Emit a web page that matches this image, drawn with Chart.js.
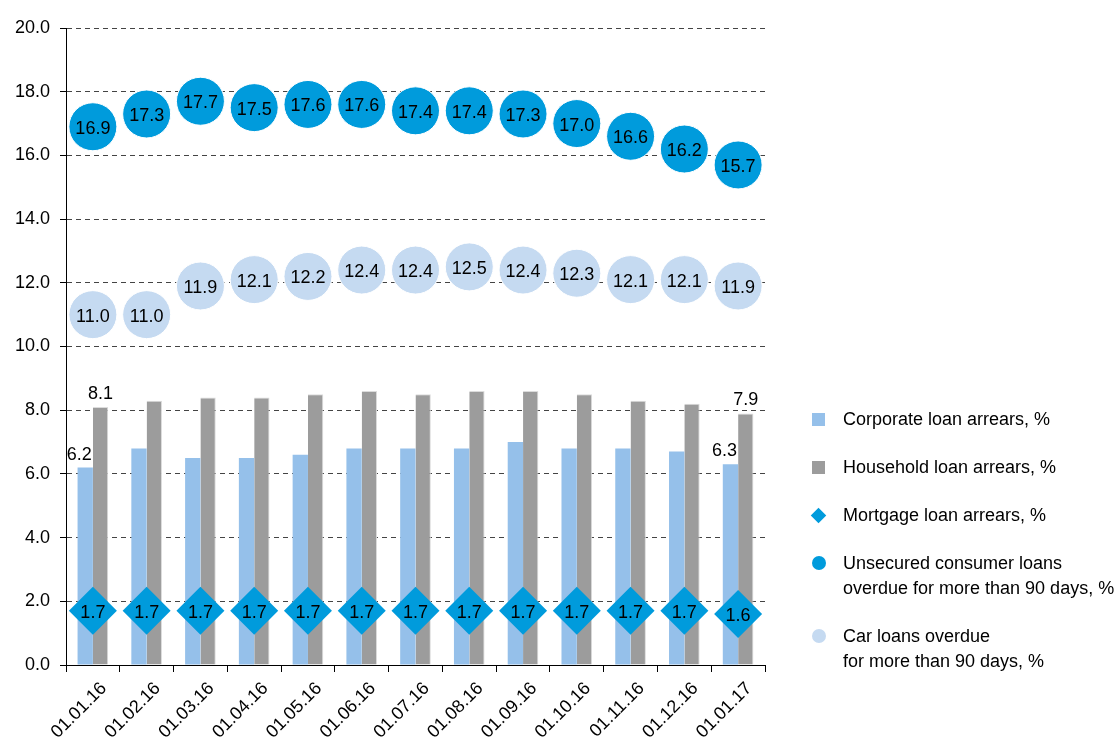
<!DOCTYPE html>
<html>
<head>
<meta charset="utf-8">
<script src="https://cdn.jsdelivr.net/npm/chart.js@4/dist/chart.umd.min.js"></script>
<style>
  body { margin: 0; background: #fff; }
  #wrap { position: relative; width: 1119px; height: 740px; }
  #legend {
    position: absolute; left: 810px; top: 407px;
    font: 18px "Liberation Sans", Arial, sans-serif; color: #000;
  }
  .item { position: relative; padding-left: 33px; line-height: 25px; margin-bottom: 23px; white-space: pre-line; }
  .mark { position: absolute; left: 2px; top: 6px; width: 13px; height: 13px; }
  .mark.circle { border-radius: 50%; width: 14px; height: 14px; top: 5px; }
  .mark.diamond { width: 11px; height: 11px; transform: rotate(45deg); left: 3px; top: 7px; }
</style>
</head>
<body>
<div id="wrap">
  <canvas id="chart" width="1119" height="740"></canvas>
  <div id="legend"></div>
</div>
<script>
// ==== Data ====
const dates = ['01.01.16','01.02.16','01.03.16','01.04.16','01.05.16','01.06.16','01.07.16',
               '01.08.16','01.09.16','01.10.16','01.11.16','01.12.16','01.01.17'];
const corporate = [6.2, 6.8, 6.5, 6.5, 6.6, 6.8, 6.8, 6.8, 7.0, 6.8, 6.8, 6.7, 6.3];
const household = [8.1, 8.3, 8.4, 8.4, 8.5, 8.6, 8.5, 8.6, 8.6, 8.5, 8.3, 8.2, 7.9];
const mortgage  = [1.7, 1.7, 1.7, 1.7, 1.7, 1.7, 1.7, 1.7, 1.7, 1.7, 1.7, 1.7, 1.6];
const unsecured = [16.9, 17.3, 17.7, 17.5, 17.6, 17.6, 17.4, 17.4, 17.3, 17.0, 16.6, 16.2, 15.7];
const carLoans  = [11.0, 11.0, 11.9, 12.1, 12.2, 12.4, 12.4, 12.5, 12.4, 12.3, 12.1, 12.1, 11.9];
const seriesNames = [
  'Corporate loan arrears, %',
  'Household loan arrears, %',
  'Mortgage loan arrears, %',
  'Unsecured consumer loans\noverdue for more than 90 days, %',
  'Car loans overdue\nfor more than 90 days, %'
];
const yTicksMin = 0, yTicksMax = 20, yStep = 2;

const FONT = '"Liberation Sans", Arial, sans-serif';

// labels inside markers + first/last bar values
const valueLabels = {
  id: 'valueLabels',
  afterDatasetsDraw(chart) {
    const ctx = chart.ctx;
    ctx.save();
    ctx.font = '18px ' + FONT;
    ctx.fillStyle = '#000';
    ctx.textAlign = 'center';
    ctx.textBaseline = 'alphabetic';
    chart.data.datasets.forEach((ds, i) => {
      const meta = chart.getDatasetMeta(i);
      meta.data.forEach((el, j) => {
        const v = ds.data[j];
        if (ds.type === 'line') {
          ctx.fillText(v.toFixed(1), el.x, el.y + 7);
        } else if (j === 0 || j === ds.data.length - 1) {
          const dx = i === 0 ? -6 : 0;
          ctx.fillText(v.toFixed(1), el.x + dx, el.y - 8);
        }
      });
    });
    ctx.restore();
  }
};

const chart = new Chart(document.getElementById('chart').getContext('2d'), {
  type: 'bar',
  data: {
    labels: dates,
    datasets: [
      { label: seriesNames[0], data: corporate, backgroundColor: '#95c0ea', order: 5,
        categoryPercentage: 0.57, barPercentage: 1.0 },
      { label: seriesNames[1], data: household, backgroundColor: '#9c9c9c', order: 5,
        borderColor: '#dcdcdc', borderWidth: {top: 1, right: 1}, borderSkipped: 'bottom',
        categoryPercentage: 0.57, barPercentage: 1.0 },
      { label: seriesNames[2], data: mortgage, type: 'line', showLine: false, order: 3,
        pointStyle: 'rectRot', pointRadius: 24, backgroundColor: '#009bdc', borderColor: '#009bdc', borderWidth: 0 },
      { label: seriesNames[3], data: unsecured, type: 'line', showLine: false, order: 2,
        pointStyle: 'circle', pointRadius: 24, backgroundColor: '#009bdc', borderColor: '#ffffff', borderWidth: 1 },
      { label: seriesNames[4], data: carLoans, type: 'line', showLine: false, order: 1,
        pointStyle: 'circle', pointRadius: 24, backgroundColor: '#c5daf1', borderColor: '#ffffff', borderWidth: 1 }
    ]
  },
  options: {
    responsive: false,
    animation: false,
    events: [],
    layout: { padding: { top: 28, right: 354, left: 0, bottom: 0 } },
    plugins: { legend: { display: false }, tooltip: { enabled: false } },
    scales: {
      x: {
        grid: { display: true, drawOnChartArea: false, drawTicks: true, tickLength: 7,
                color: '#000', offset: true, tickBorderDash: [] },
        border: { color: '#000', width: 1 },
        ticks: { font: { family: FONT, size: 18 }, color: '#000', maxRotation: 45, minRotation: 45,
                 labelOffset: 11, padding: 6, autoSkip: false },
        afterFit(s) { s.height = 75; }
      },
      y: {
        min: yTicksMin, max: yTicksMax,
        grid: { color: '#444', lineWidth: 1, tickLength: 6, tickColor: '#000', tickBorderDash: [] },
        border: { color: '#000', width: 1, dash: [5, 4] },
        ticks: { stepSize: yStep, font: { family: FONT, size: 18 }, color: '#000', padding: 10,
                 callback: v => v.toFixed(1) },
        afterFit(s) { s.width = 66; }
      }
    }
  },
  plugins: [valueLabels]
});

// ==== HTML legend ====
const shapes = ['square', 'square', 'diamond', 'circle', 'circle'];
const legendBox = document.getElementById('legend');
chart.data.datasets.forEach((ds, i) => {
  const item = document.createElement('div');
  item.className = 'item';
  const mark = document.createElement('span');
  mark.className = 'mark ' + shapes[i];
  mark.style.background = ds.backgroundColor;
  item.appendChild(mark);
  item.appendChild(document.createTextNode(ds.label));
  legendBox.appendChild(item);
});
</script>
</body>
</html>
